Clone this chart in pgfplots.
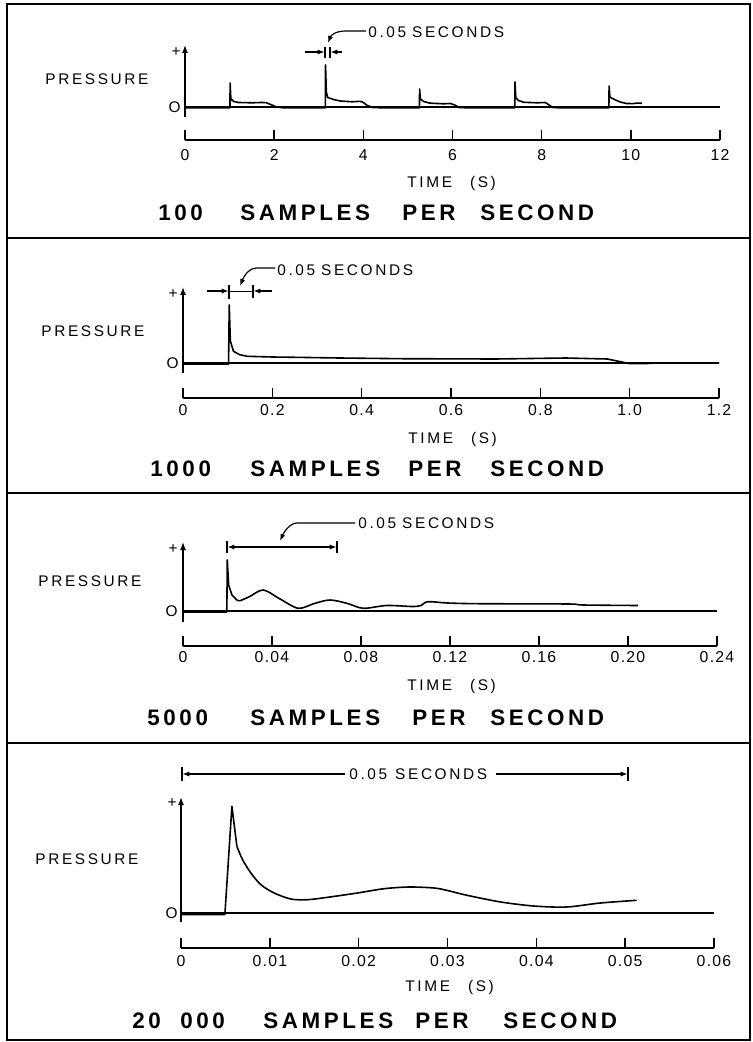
\documentclass[border=0pt]{standalone}
\usepackage{fontspec}
\setmainfont{Liberation Sans}
\newfontfamily\labf[LetterSpace=17]{Liberation Sans}
\newfontfamily\tickf[LetterSpace=8]{Liberation Sans}
\newfontfamily\ttlf[LetterSpace=16]{Liberation Sans}
\usepackage{pgfplots}
\pgfplotsset{compat=1.18}
\usetikzlibrary{arrows.meta}
\newcommand\lf{\labf\fontsize{7.7}{9}\selectfont}
\newcommand\kf{\tickf\fontsize{7.9}{9}\selectfont}
\newcommand\tf{\ttlf\bfseries\fontsize{11.2}{13}\selectfont}
\pgfplotsset{panel/.style={anchor=south west, scale only axis, clip=false,
  axis x line=bottom, axis y line=none, axis line style={-, line width=0.7pt, black},
  tick align=inside, major tick length=5pt, xtick style={line width=0.7pt, black},
  minor tick num=0, enlargelimits=false, scaled x ticks=false,
  xticklabel style={anchor=base, font=\kf, inner sep=0pt},
  cycle list={{black, mark=none, line width=0.8pt, line join=round}}},
  sig/.style={black, mark=none, line width=0.8pt, line join=round},
  zero/.style={black, mark=none, line width=0.55pt}}
\tikzset{ah/.tip={Latex[length=3.5pt,width=2.6pt]}}
\begin{document}
\begin{tikzpicture}
\useasboundingbox (0,0) rectangle (376.5pt,-521pt);
% ---------- Panel 1 ----------
\begin{axis}[panel, at={(92.5pt,-70pt)}, width=267.5pt, height=47.5pt,
  xmin=0, xmax=12, ymin=-33, ymax=62,
  xtick={0,2,4,6,8,10,12}, xticklabels={0,2,4,6,8,10,12},
  xticklabel style={yshift=-10.25pt}]
\addplot[zero] coordinates {(0,0) (12,0)};
\addplot[sig] coordinates {(0,-0.8) (1.008,-0.8) (1.012,24) (1.03,6.5) (1.05,7.5) (1.09,5.5) (1.2,4.5) (1.5,4.2) (1.72,4.5) (1.82,4.3) (1.95,2) (2.05,0) (2.2,-0.8)
(3.148,-0.8) (3.152,42) (3.17,15) (3.2,9.5) (3.33,7.5) (3.48,6) (3.75,5.2) (3.93,5.7) (4.0,4.5) (4.08,1.7) (4.22,-0.5) (4.4,-0.8)
(5.258,-0.8) (5.262,18) (5.28,8) (5.35,5.5) (5.5,3.8) (5.8,3.2) (5.95,3.5) (6.05,2) (6.15,-0.5) (6.3,-0.8)
(7.398,-0.8) (7.402,25) (7.42,9) (7.48,6.5) (7.6,4.7) (7.9,4.2) (8.08,4.5) (8.15,2.5) (8.25,-0.5) (8.4,-0.8)
(9.508,-0.8) (9.512,21) (9.53,10) (9.61,8) (9.76,5) (9.9,3.5) (10.05,3.4) (10.15,3.9) (10.25,3.7)};
\end{axis}
% ---------- Panel 2 ----------
\begin{axis}[panel, at={(91.5pt,-199pt)}, width=268pt, height=55.5pt,
  xmin=0, xmax=1.2, ymin=-35, ymax=76,
  xtick={0,0.2,0.4,0.6,0.8,1.0,1.2}, xticklabels={0,0.2,0.4,0.6,0.8,1.0,1.2},
  xticklabel style={yshift=-8.75pt}]
\addplot[zero] coordinates {(0,0) (1.2,0)};
\addplot[sig] coordinates {(0,-1) (0.102,-1) (0.1035,58) (0.106,22) (0.113,11.7) (0.127,8.3) (0.144,6.7) (0.2,6) (0.25,5.7) (0.35,5) (0.49,4.3) (0.7,4) (0.857,5) (0.95,4) (0.975,1.7) (1.0,-0.7) (1.03,-0.7) (1.06,0) (1.2,0)};
\end{axis}
% ---------- Panel 3 ----------
\begin{axis}[panel, at={(91.5pt,-323pt)}, width=267pt, height=52pt,
  xmin=0, xmax=0.24, ymin=-35, ymax=69,
  xtick={0,0.04,0.08,0.12,0.16,0.20,0.24}, xticklabels={0,0.04,0.08,0.12,0.16,0.20,0.24},
  xticklabel style={yshift=-8.25pt}]
\addplot[zero] coordinates {(0,0) (0.24,0)};
\addplot[sig] coordinates {(0,-1) (0.0197,-1) (0.0199,51) (0.0205,26) (0.022,16) (0.0242,11)};
\addplot[sig, smooth] coordinates {(0.0242,11) (0.0256,10.3) (0.030,14.5) (0.0361,21) (0.0436,12) (0.0518,2.7) (0.059,7.5) (0.0661,11) (0.074,7.5) (0.081,2.7) (0.0915,5.5) (0.103,4.5) (0.107,5.5) (0.110,9.3) (0.119,8) (0.133,7.3) (0.173,7) (0.18,6) (0.2045,5.5)};
\end{axis}
% ---------- Panel 4 ----------
\begin{axis}[panel, at={(90.5pt,-474pt)}, width=266.5pt, height=75.5pt,
  xmin=0, xmax=0.06, ymin=-35, ymax=116,
  xtick={0,0.01,0.02,0.03,0.04,0.05,0.06}, xticklabels={0,0.01,0.02,0.03,0.04,0.05,0.06},
  xticklabel style={yshift=-9.4pt}]
\addplot[zero] coordinates {(0,0) (0.06,0)};
\addplot[sig] coordinates {(0,-1.5) (0.00494,-1.5) (0.00573,106.7) (0.00629,66.7)};
\addplot[sig, smooth] coordinates {(0.00629,66.7) (0.00693,53.3) (0.00787,40) (0.00899,28.3) (0.01049,20) (0.01236,14) (0.01423,13.3) (0.0165,15.7) (0.01985,20) (0.02285,24.3) (0.0257,26) (0.0285,25) (0.0300,22.5) (0.0322,17.7) (0.0360,11) (0.0397,7) (0.0434,6) (0.0472,10) (0.0513,12.7)};
\end{axis}
% ---------- frames, labels, annotations (pixel grid) ----------
\begin{scope}[x=0.5pt,y=-0.5pt]
\draw[line width=1.1pt] (7,4) rectangle (750,1040);
\draw[line width=1.1pt] (7,238) -- (750,238) (7,493) -- (750,493) (7,743) -- (750,743);
% y axes
\begin{scope}[line width=0.7pt, -{Latex[length=4pt,width=3pt]}]
\draw (185,117) -- (185,45);
\draw (183,373) -- (183,287);
\draw (183,622) -- (183,542);
\draw (181,922) -- (181,797);
\end{scope}
% labels
\tikzset{lbl/.style={inner sep=0pt, font=\lf}}
\node[lbl, anchor=base west] at (45,84.5) {PRESSURE};
\node[lbl, anchor=base west] at (41,336.5) {PRESSURE};
\node[lbl, anchor=base west] at (38,586.5) {PRESSURE};
\node[lbl, anchor=base west] at (35,864.5) {PRESSURE};
\node[lbl] at (176,52) {+};
\node[lbl] at (173,294) {+};
\node[lbl] at (173,549) {+};
\node[lbl] at (172,803) {+};
\node[lbl, anchor=base east] at (181,112.5) {O};
\node[lbl, anchor=base east] at (179,368.5) {O};
\node[lbl, anchor=base east] at (178,616.5) {O};
\node[lbl, anchor=base east] at (178,918.5) {O};
\node[lbl, anchor=base west] at (407,187.5) {TIME\hspace{9pt}(S)};
\node[lbl, anchor=base west] at (408,443.5) {TIME\hspace{9pt}(S)};
\node[lbl, anchor=base west] at (407,690.5) {TIME\hspace{9pt}(S)};
\node[lbl, anchor=base west] at (405,991.5) {TIME\hspace{9pt}(S)};
\node[lbl, anchor=base west] at (368,37.5) {0.05\hspace{3pt}SECONDS};
\node[lbl, anchor=base west] at (277,275.5) {0.05\hspace{3pt}SECONDS};
\node[lbl, anchor=base west] at (358,528.5) {0.05\hspace{3pt}SECONDS};
\node[lbl, anchor=base west] at (349,779.5) {0.05\hspace{4pt}SECONDS};
% titles
\tikzset{ttl/.style={inner sep=0pt, font=\tf, anchor=base west}}
\node[ttl] at (158,221) {100};  \node[ttl] at (240,221) {SAMPLES};
\node[ttl] at (402,221) {PER};  \node[ttl] at (480,221) {SECOND};
\node[ttl] at (150,476) {1000}; \node[ttl] at (250,476) {SAMPLES};
\node[ttl] at (408,476) {PER};  \node[ttl] at (490,476) {SECOND};
\node[ttl] at (147,725) {5000}; \node[ttl] at (250,725) {SAMPLES};
\node[ttl] at (412,725) {PER};  \node[ttl] at (490,725) {SECOND};
\node[ttl] at (132,1028) {20};  \node[ttl] at (180,1028) {000};
\node[ttl] at (263,1028) {SAMPLES};
\node[ttl] at (415,1028) {PER};  \node[ttl] at (503,1028) {SECOND};
% dimension marks
\begin{scope}[line width=0.6pt]
% panel 1
\draw[-ah] (305,52) -- (324.6,52);
\draw (325,47) -- (325,58) (330,47) -- (330,58);
\draw[-ah] (342,52) -- (330.4,52);
\draw[-ah] (366,31) -- (346,31) .. controls (336,31) and (331,35) .. (328,43);
% panel 2
\draw[-ah] (207,291) -- (228.6,291);
\draw (229,285) -- (229,299) (253,285) -- (253,298);
\draw[line width=0.4pt] (229,291) -- (253,291);
\draw[-ah] (272,291) -- (253.4,291);
\draw[-ah] (275,268) -- (256,268) .. controls (249,268) and (244,276) .. (240,286);
% panel 3
\draw (227,541) -- (227,553) (337,541) -- (337,553);
\draw[ah-ah] (227.4,547) -- (336.6,547);
\draw[-ah] (355,523) -- (297,523) .. controls (290,523) and (284,532) .. (280,541);
% panel 4
\draw (182,767) -- (182,781) (628,767) -- (628,781);
\draw[-ah] (345,774) -- (182.4,774);
\draw[-ah] (496,774) -- (627.6,774);
\end{scope}
\end{scope}
\end{tikzpicture}
\end{document}
